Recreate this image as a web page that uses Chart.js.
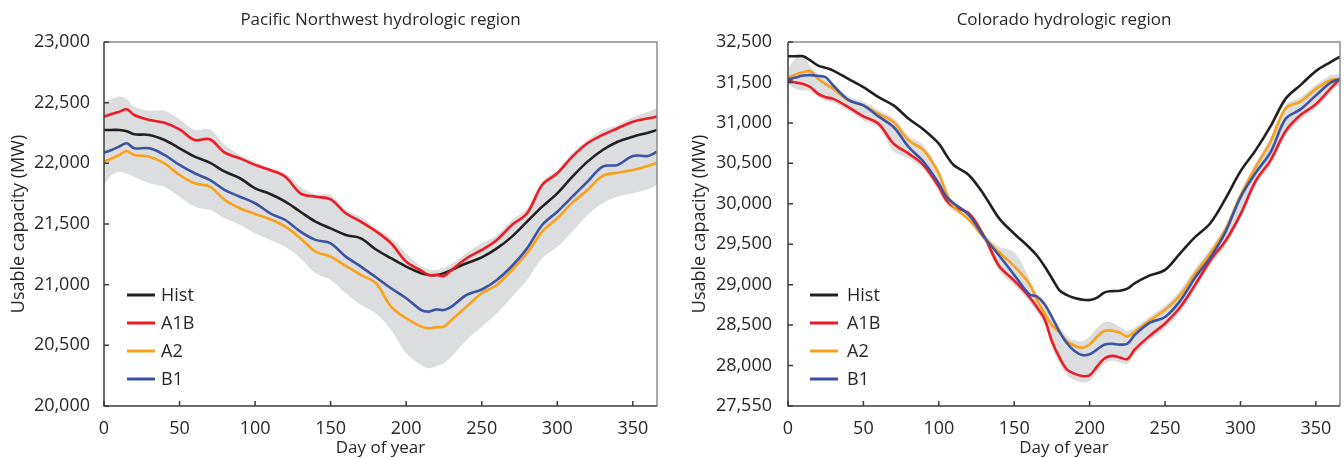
<!DOCTYPE html>
<html>
<head>
<meta charset="utf-8">
<script src="https://cdn.jsdelivr.net/npm/chart.js@4.4.1/dist/chart.umd.min.js"></script>
<style>
html,body{margin:0;padding:0;background:#fff;}
#wrap{position:relative;width:1344px;height:458px;}
canvas{position:absolute;top:0;}
#pnw{left:0;}
#col{left:672px;}
</style>
</head>
<body>
<div id="wrap">
<canvas id="pnw" width="672" height="458"></canvas>
<canvas id="col" width="672" height="458"></canvas>
</div>
<script>
/* DATA - Pacific Northwest */
const pnwDays=[0,5,10,15,20,30,40,50,60,70,80,90,100,110,120,130,140,150,160,170,180,190,200,210,215,220,225,230,240,250,260,270,280,290,300,310,320,330,340,350,360,366];
const pnwHist=[22275,22275,22275,22265,22239,22234,22192,22124,22055,22006,21931,21877,21794,21747,21684,21601,21519,21464,21410,21382,21290,21218,21149,21094,21080,21080,21095,21121,21176,21225,21299,21396,21519,21643,21753,21890,22014,22110,22178,22220,22253,22275];
const pnwA1B=[22385,22407,22425,22445,22398,22357,22335,22280,22192,22198,22088,22041,21987,21945,21890,21753,21725,21703,21588,21519,21440,21341,21190,21116,21080,21080,21072,21121,21218,21286,21369,21492,21588,21822,21918,22055,22165,22234,22289,22343,22371,22385];
const pnwA2=[22014,22040,22069,22102,22069,22055,22000,21904,21836,21808,21698,21630,21583,21539,21478,21382,21272,21231,21154,21080,21012,20819,20723,20654,20641,20650,20654,20709,20819,20929,20998,21121,21259,21437,21547,21676,21780,21896,21923,21945,21978,22006];
const pnwB1=[22088,22110,22138,22165,22124,22124,22069,21987,21918,21863,21780,21725,21671,21588,21533,21437,21369,21341,21231,21149,21061,20970,20888,20791,20778,20795,20791,20819,20915,20960,21039,21154,21299,21492,21601,21725,21849,21973,21987,22061,22061,22096];
const pnwHigh=[22508,22530,22550,22530,22467,22434,22434,22363,22275,22280,22151,22069,22014,21959,21918,21808,21747,21739,21616,21560,21464,21382,21259,21149,21125,21121,21140,21171,21259,21341,21410,21533,21630,21849,21945,22083,22192,22275,22316,22379,22426,22454];
const pnwLow=[21822,21904,21931,21915,21890,21836,21808,21725,21643,21616,21547,21492,21423,21369,21313,21218,21094,21039,20929,20833,20764,20627,20435,20338,20311,20330,20352,20407,20544,20654,20764,20901,21039,21218,21313,21437,21574,21671,21725,21753,21786,21822];
const pnwYTicks=[20000,20500,21000,21500,22000,22500,23000];
const pnwYLabels=['20,000','20,500','21,000','21,500','22,000','22,500','23,000'];

/* DATA - Colorado */
const colDays=[0,5,10,15,20,25,30,40,50,60,70,80,90,100,105,110,120,130,140,150,160,165,170,175,180,185,190,195,200,205,210,215,220,225,230,240,250,260,270,280,290,300,310,320,330,340,350,360,366];
const colHist=[31823,31823,31823,31770,31708,31680,31647,31544,31441,31318,31216,31051,30916,30744,30600,30476,30353,30110,29820,29630,29460,29360,29230,29080,28930,28870,28834,28815,28810,28840,28905,28920,28925,28950,29020,29115,29183,29388,29590,29760,30060,30400,30660,30960,31300,31470,31640,31755,31819];
const colA1B=[31524,31500,31482,31441,31359,31318,31297,31195,31080,30990,30744,30620,30476,30209,30045,29960,29880,29600,29230,29050,28850,28720,28580,28300,28100,27950,27900,27870,27880,27990,28090,28120,28100,28080,28200,28370,28520,28720,29000,29300,29540,29870,30280,30540,30900,31100,31230,31430,31544];
const colA2=[31557,31600,31626,31640,31544,31480,31421,31277,31216,31113,31010,30784,30661,30374,30128,29963,29800,29580,29400,29230,29010,28813,28650,28500,28410,28300,28245,28220,28260,28361,28430,28430,28405,28361,28420,28560,28690,28870,29140,29390,29680,30100,30450,30770,31180,31265,31420,31530,31544];
const colB1=[31532,31560,31585,31590,31580,31564,31462,31285,31216,31080,30949,30702,30517,30251,30086,30004,29860,29590,29360,29120,28880,28854,28760,28600,28420,28275,28180,28130,28140,28200,28260,28270,28259,28270,28380,28530,28600,28800,29090,29335,29650,30080,30380,30640,31050,31170,31340,31500,31544];
const colHigh=[31660,31800,31830,31700,31600,31540,31480,31330,31260,31160,31060,30840,30720,30420,30190,30020,29860,29630,29470,29400,29080,28900,28800,28620,28480,28360,28310,28300,28360,28470,28540,28530,28480,28430,28470,28610,28740,28930,29200,29440,29730,30150,30500,30820,31220,31320,31470,31590,31600];
const colLow=[31480,31420,31400,31390,31320,31270,31250,31150,31030,30940,30650,30560,30420,30150,29990,29910,29820,29540,29170,28990,28790,28660,28520,28230,28030,27880,27820,27790,27810,27920,28030,28060,28040,28020,28140,28310,28460,28660,28940,29240,29480,29810,30220,30480,30840,31040,31180,31380,31480];
const colYTicks=[27500,28000,28500,29000,29500,30000,30500,31000,31500,32000];
const colYLabels=['27,550','28,000','28,500','29,000','29,500','30,000','30,500','31,000','31,500','32,500'];

const xTicks=[0,50,100,150,200,250,300,350];
const seriesNames=['Hist','A1B','A2','B1'];
const seriesColors=['#231f20','#ed1c24','#f9a11b','#3a53a4'];

Chart.defaults.font.family='"Open Sans", sans-serif';
Chart.defaults.font.weight='normal';
Chart.defaults.color='#2a2627';

/* frame + inward ticks */
const frame={
  id:'frame',
  afterDatasetsDraw(chart){
    const {ctx,chartArea:a,scales:{x,y}}=chart;
    ctx.save();
    ctx.lineWidth=1.5;
    ctx.strokeStyle='#8c8c8c';
    ctx.beginPath();ctx.moveTo(a.left,a.top);ctx.lineTo(a.right,a.top);ctx.lineTo(a.right,a.bottom);ctx.stroke();
    ctx.strokeStyle='#3c3c3c';
    ctx.beginPath();ctx.moveTo(a.left,a.top);ctx.lineTo(a.left,a.bottom);ctx.lineTo(a.right,a.bottom);ctx.stroke();
    ctx.beginPath();
    x.ticks.forEach(t=>{const px=x.getPixelForValue(t.value);ctx.moveTo(px,a.bottom);ctx.lineTo(px,a.bottom-5);});
    y.ticks.forEach(t=>{const py=y.getPixelForValue(t.value);ctx.moveTo(a.left,py);ctx.lineTo(a.left+5,py);});
    ctx.stroke();
    ctx.restore();
  }
};

/* legend inside plot */
const insetLegend={
  id:'insetLegend',
  afterDatasetsDraw(chart,args,o){
    const {ctx,chartArea:a}=chart;
    ctx.save();
    ctx.font='18px "Open Sans", sans-serif';
    ctx.textBaseline='middle';
    ctx.lineWidth=3;
    chart.data.datasets.filter(d=>d.legend).forEach((d,i)=>{
      const y=a.bottom-111+i*28;
      ctx.strokeStyle=d.borderColor;
      ctx.beginPath();ctx.moveTo(a.left+o.x0,y);ctx.lineTo(a.left+o.x0+28,y);ctx.stroke();
      ctx.fillStyle='#2a2627';
      ctx.fillText(d.label,a.left+o.textX,y+1);
    });
    ctx.restore();
  }
};

function pts(days,vals){return days.map((d,i)=>({x:d,y:vals[i]}));}

function makeChart(el,c){
  const series=[c.hist,c.a1b,c.a2,c.b1];
  const ds=[
    {label:'high',data:pts(c.days,c.high),borderWidth:0,pointRadius:0,fill:'+1',backgroundColor:'#dcddde',tension:0.35,order:10},
    {label:'low',data:pts(c.days,c.low),borderWidth:0,pointRadius:0,fill:false,tension:0.35,order:11}
  ];
  series.forEach((s,i)=>ds.push({
    label:seriesNames[i],legend:true,data:pts(c.days,s),borderColor:seriesColors[i],
    borderWidth:2.6,pointRadius:0,fill:false,tension:0.35,order:4-i
  }));
  return new Chart(el,{
    type:'line',
    data:{datasets:ds},
    options:{
      responsive:false,animation:false,devicePixelRatio:1,
      layout:{padding:{left:0,right:c.padRight,top:0,bottom:0}},
      plugins:{
        legend:{display:false},tooltip:{enabled:false},
        filler:{drawTime:'beforeDatasetsDraw'},
        title:{display:true,text:c.title,fullSize:false,color:'#2a2627',
          font:{size:17,weight:'normal'},padding:{top:10,bottom:11.6}},
        insetLegend:{x0:c.legX,textX:c.legText}
      },
      scales:{
        x:{type:'linear',min:0,max:366,
          afterBuildTicks:s=>{s.ticks=xTicks.map(v=>({value:v}));},
          afterFit:s=>{s.height=52;},
          grid:{display:false},border:{display:false},
          ticks:{font:{size:18},padding:4,maxRotation:0},
          title:{display:true,text:'Day of year',font:{size:17},padding:{top:0,bottom:0}}
        },
        y:{type:'linear',min:c.yMin,max:c.yMax,
          afterBuildTicks:s=>{s.ticks=c.yTicks.map(v=>({value:v}));},
          afterFit:s=>{s.width=c.yWidth;},
          grid:{display:false},border:{display:false},
          ticks:{font:{size:18},padding:c.tickPad,callback:(v,i)=>c.yLabels[i]},
          title:{display:true,text:'Usable capacity (MW)',font:{size:18},padding:{top:c.titlePad,bottom:0}}
        }
      }
    },
    plugins:[frame,insetLegend]
  });
}

makeChart(document.getElementById('pnw'),{
  title:'Pacific Northwest hydrologic region',
  days:pnwDays,hist:pnwHist,a1b:pnwA1B,a2:pnwA2,b1:pnwB1,high:pnwHigh,low:pnwLow,
  yMin:20000,yMax:23000,yTicks:pnwYTicks,yLabels:pnwYLabels,
  yWidth:104,padRight:15,tickPad:6,titlePad:8,legX:23,legText:57
});
makeChart(document.getElementById('col'),{
  title:'Colorado hydrologic region',
  days:colDays,hist:colHist,a1b:colA1B,a2:colA2,b1:colB1,high:colHigh,low:colLow,
  yMin:27500,yMax:32000,yTicks:colYTicks,yLabels:colYLabels,
  yWidth:116,padRight:4,tickPad:8,titlePad:17,legX:22,legText:59
});
</script>
</body>
</html>
